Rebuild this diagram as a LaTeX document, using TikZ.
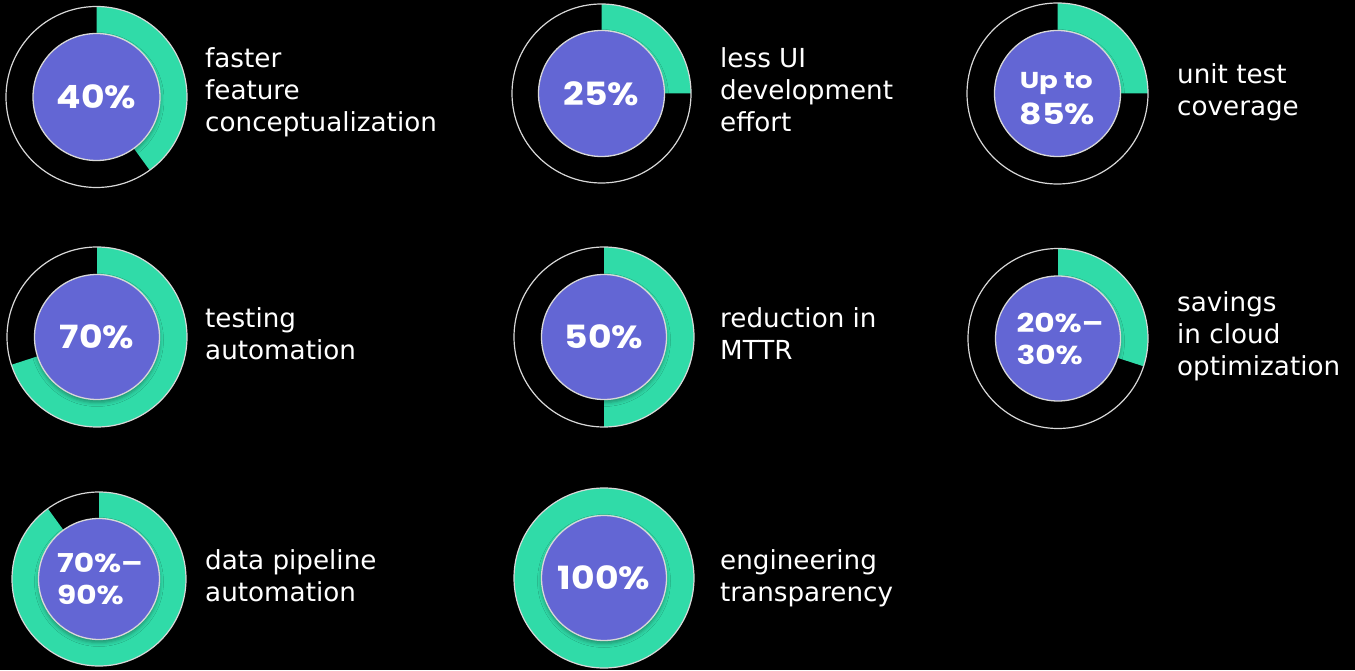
\documentclass[tikz,border=0pt]{standalone}
\usepackage{fontspec}
\usepackage{graphicx}
\setmainfont{DejaVu Sans}
\newfontfamily\numfont{Poppins}
\usetikzlibrary{shadows.blur}
\definecolor{ringgreen}{HTML}{30DBA8}
\definecolor{discpurple}{HTML}{6366D4}
\definecolor{rimgray}{HTML}{D8D8D8}
\newcommand\stack[2]{\vtop{\baselineskip=#1pt \lineskiplimit=-30pt \halign{##\hfil\cr#2\crcr}}}
\newcommand\bignum[1]{\scalebox{1.13}[1]{\numfont\bfseries\fontsize{32}{32}\selectfont #1}}
\newcommand\twonum[1]{\scalebox{1.2}[1]{\numfont\bfseries\fontsize{26}{26}\selectfont \stack{32}{#1}}}
\tikzset{
  rim/.style={circle, draw=rimgray, line width=1.2pt, inner sep=0pt, outer sep=0pt},
  disc/.style={circle, fill=discpurple, draw=rimgray, line width=1.3pt, inner sep=0pt, outer sep=0pt, text=white,
    blur shadow={shadow xshift=0pt, shadow yshift=-3pt, shadow blur radius=4pt, shadow opacity=35}},
  caption/.style={anchor=base west, inner sep=0pt, text=white, font=\fontsize{26.2}{32}\selectfont},
}
% name, cx, cy(image), R, r, sweep, text
\newcommand\donut[7]{%
  \coordinate (#1c) at (#2,670-#3);
  \fill[ringgreen] (#1c) -- ++(90:#4) arc[start angle=90, delta angle=-#6, radius=#4] -- cycle;
  \node[rim, minimum size=2*#4] (#1o) at (#1c) {};
  \node[disc, minimum size=2*#5] (#1) at (#1c) {#7};
}
\begin{document}
\begin{tikzpicture}[x=1pt,y=1pt]
\fill[black] (0,0) rectangle (1355,670);
\useasboundingbox (0,0) rectangle (1355,670);

\donut{d1}{96.5}{97}{90.5}{63.5}{144}{\bignum{40\%}}
\donut{d2}{601.5}{93.5}{89.5}{63}{90}{\bignum{25\%}}
\donut{d3}{1057.5}{93.5}{90.5}{63}{90}{\raisebox{-5pt}[\height][\depth]{\scalebox{1.2}[1]{\numfont\bfseries\vtop{\baselineskip=36pt\lineskiplimit=-30pt\halign{#\hfil\cr\fontsize{23}{23}\selectfont Up to\cr\fontsize{29}{29}\selectfont 85\%\crcr}}}}}
\donut{d4}{97}{337}{90}{62.5}{252}{\bignum{70\%}}
\donut{d5}{604}{337}{90}{62.5}{180}{\bignum{50\%}}
\donut{d6}{1058}{338.5}{90}{62.5}{108}{\hspace*{4pt}\twonum{20\%–\cr 30\%}}
\donut{d7}{99}{579}{87}{60.5}{324}{\hspace*{2pt}\twonum{70\%–\cr 90\%}}
\donut{d8}{604}{578}{90}{62.5}{360}{\bignum{100\%}}

\node[caption] (t1) at (205,670-68) {\stack{32}{faster\cr feature\cr conceptualization}};
\node[caption] (t2) at (720,670-68) {\stack{32}{less UI\cr development\cr effort}};
\node[caption] (t3) at (1177,670-84) {\stack{32}{unit test\cr coverage}};
\node[caption] (t4) at (205,670-328) {\stack{32}{testing\cr automation}};
\node[caption] (t5) at (720,670-328) {\stack{32}{reduction in\cr MTTR}};
\node[caption] (t6) at (1177,670-312) {\stack{32}{savings\cr in cloud\cr optimization}};
\node[caption] (t7) at (205,670-569) {\stack{32}{data pipeline\cr automation}};
\node[caption] (t8) at (720,670-569) {\stack{32}{engineering\cr transparency}};
\end{tikzpicture}
\end{document}
